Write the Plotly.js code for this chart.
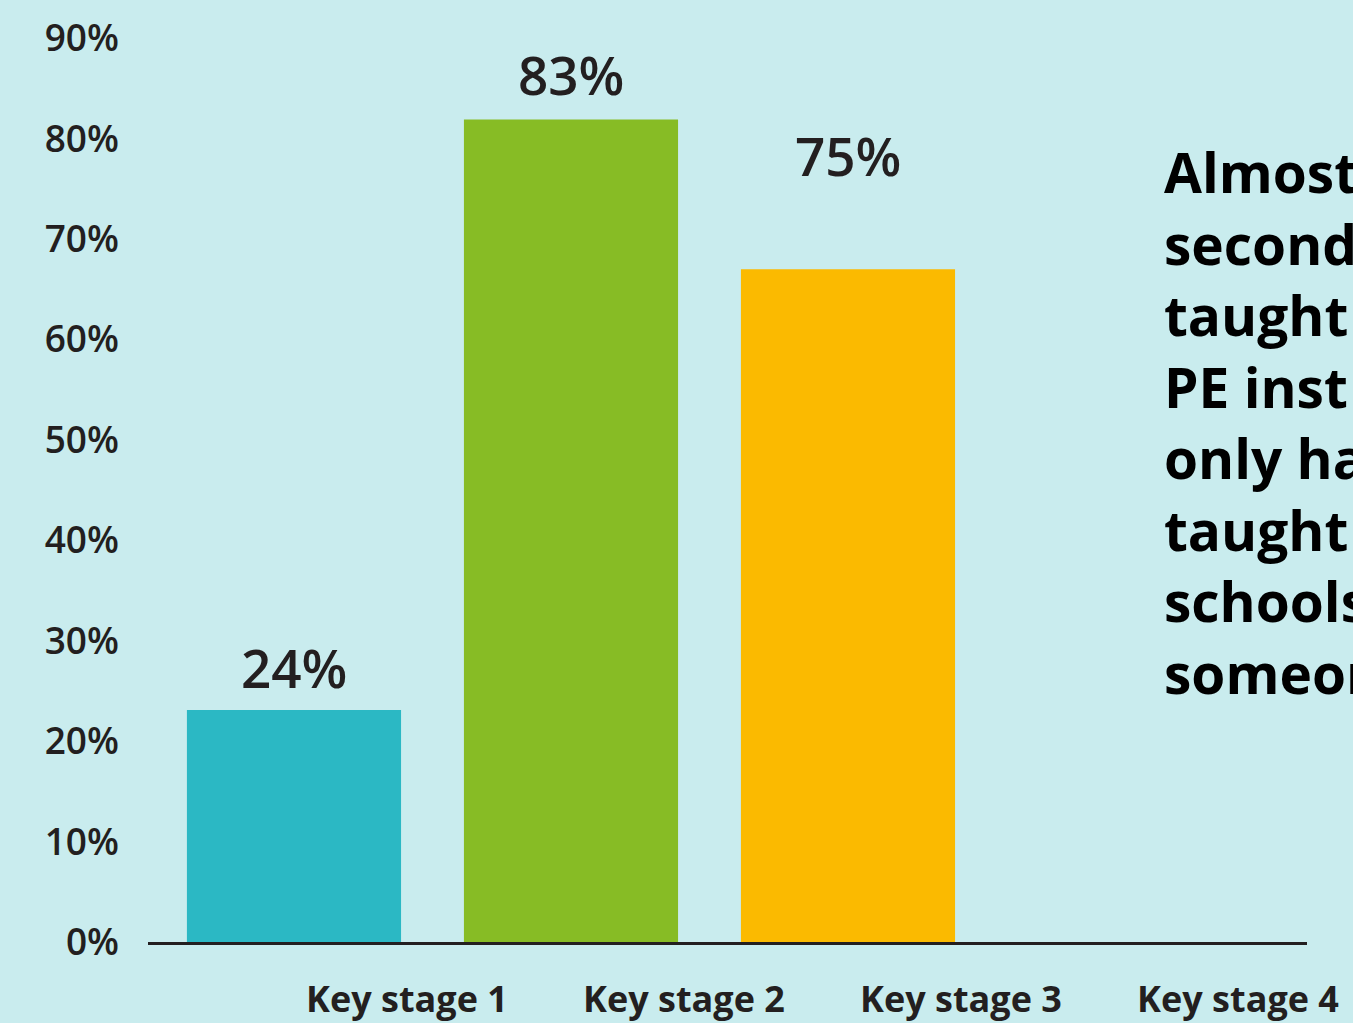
<!DOCTYPE html>
<html>
<head>
<meta charset="utf-8">
<script src="https://cdn.plot.ly/plotly-3.0.1.min.js"></script>
<style>
  html, body { margin: 0; padding: 0; background: #c9ecee; overflow: hidden; }
  #chart { width: 1353px; height: 1023px; }
</style>
</head>
<body>
<div id="chart"></div>
<script>
// ---- data ----
var categories = ["Key stage 1", "Key stage 2", "Key stage 3", "Key stage 4"];
var barValues = [23.1, 81.9, 67.0, null];           // bar heights as drawn
var labelValues = [24, 83, 75, null];               // printed value labels
var labelTexts = ["24%", "83%", "75%", ""];
var barColors = ["#2bb8c4", "#87bc25", "#fbba00", "#c9ecee"];
var yTickValues = [0, 10, 20, 30, 40, 50, 60, 70, 80, 90];
var sideTextLines = ["Almost", "second", "taught", "PE inst", "only ha", "taught", "schools", "someon"];

var FONT = "'Open Sans', Lato, sans-serif";
var INK = "#231f20";

var trace = {
  type: "bar",
  x: categories,
  y: barValues,
  marker: { color: barColors, line: { width: 0 } },
  hoverinfo: "skip"
};

var annotations = [];
for (var i = 0; i < categories.length; i++) {
  if (labelValues[i] === null) continue;
  annotations.push({
    x: categories[i], y: labelValues[i], xref: "x", yref: "y",
    text: labelTexts[i], showarrow: false,
    xanchor: "center", yanchor: "bottom", yshift: -5,
    font: { family: FONT, size: 53, color: INK, weight: 600 }
  });
}
annotations.push({
  xref: "paper", yref: "paper", x: 0.875, y: 0.86,
  xanchor: "left", yanchor: "top", align: "left",
  text: sideTextLines.join("<br>"), showarrow: false,
  font: { family: FONT, size: 55, color: "#000000", weight: 700 }
});

var layout = {
  width: 1353, height: 1023,
  paper_bgcolor: "#c9ecee", plot_bgcolor: "#c9ecee",
  margin: { l: 148, r: 46, t: 0, b: 81 },
  showlegend: false,
  bargap: 0.227,
  xaxis: {
    type: "category",
    range: [-0.527, 3.657],
    showgrid: false, zeroline: false,
    showline: true, linecolor: INK, linewidth: 3,
    ticks: "", ticklabelshift: 113, ticklabelstandoff: 24,
    tickfont: { family: FONT, size: 36, color: INK, weight: 700 },
    fixedrange: true
  },
  yaxis: {
    range: [0, 93.8],
    tickvals: yTickValues,
    ticktext: yTickValues.map(function (v) { return v + "%"; }),
    showgrid: false, zeroline: false, showline: false,
    ticks: "", ticklabelstandoff: 28,
    tickfont: { family: FONT, size: 37, color: INK, weight: 600 },
    fixedrange: true
  },
  annotations: annotations
};

Plotly.newPlot("chart", [trace], layout, { displayModeBar: false, staticPlot: true });
</script>
</body>
</html>
